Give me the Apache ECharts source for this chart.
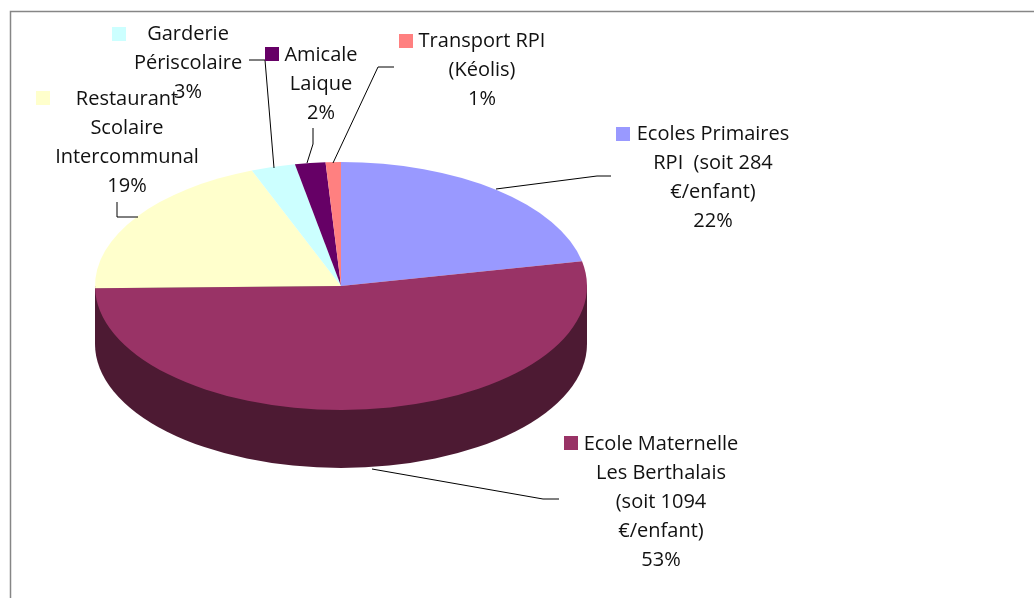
<!DOCTYPE html>
<html>
<head>
<meta charset="utf-8">
<style>
  html, body { margin: 0; padding: 0; background: #fff; }
  #chart { width: 1034px; height: 598px; }
</style>
<script src="https://cdn.jsdelivr.net/npm/echarts@6/dist/echarts.min.js"></script>
</head>
<body>
<div id="chart"></div>
<script>
// données
const categories = [
  'Ecoles Primaires\nRPI  (soit 284\n€/enfant)',
  'Ecole Maternelle\nLes Berthalais\n(soit 1094\n€/enfant)',
  'Restaurant\nScolaire\nIntercommunal',
  'Garderie\nPériscolaire',
  'Amicale\nLaique',
  'Transport RPI\n(Kéolis)',
]
const values = [21.8, 52.9, 19.4, 2.9, 2.0, 1.0]

const colors = ['#9999FF', '#993366', '#FFFFCC', '#CCFFFF', '#660066', '#FF8080']
const wallColor = '#4D1A33'

// géométrie du camembert "3D"
const cx = 341
const cy = 286
const rx = 246
const ry = 124
const depth = 58

// centre de la première ligne du texte, puis carré de légende
const labelAnchors = [[713, 134], [661, 444], [127, 99], [188, 34], [321, 55], [482, 41]]
const keyBoxes = [[616, 127], [564, 436], [36, 91], [112, 27], [265, 47], [399, 34]]
const leaders = [
  [[496, 189], [597, 176], [611, 176]],
  [[372, 469], [543, 499], [559, 499]],
  [[117, 202], [117, 217], [138, 217]],
  [[274, 168], [265, 60], [249, 60]],
  [[307, 163], [313, 144], [313, 128]],
  [[333, 163], [378, 67], [394, 67]],
]

const total = values.reduce((a, b) => a + b, 0)
const labelFont = '20px "Open Sans", sans-serif'

function renderSlice(params, api) {
  const i = params.dataIndex
  const before = values.slice(0, i).reduce((a, b) => a + b, 0)
  const start = -Math.PI / 2 + (before / total) * Math.PI * 2
  const end = start + (api.value(0) / total) * Math.PI * 2
  return {
    type: 'sector',
    x: cx,
    y: cy,
    scaleY: ry / rx,
    shape: { cx: 0, cy: 0, r: rx, r0: 0, startAngle: start, endAngle: end, clockwise: true },
    style: { fill: colors[i] },
  }
}

function renderWall() {
  // seule la moitié avant du bord est visible
  return {
    type: 'group',
    children: [
      {
        type: 'sector',
        x: cx,
        y: cy + depth,
        scaleY: ry / rx,
        shape: { cx: 0, cy: 0, r: rx, r0: 0, startAngle: 0, endAngle: Math.PI, clockwise: true },
        style: { fill: wallColor },
      },
      {
        type: 'rect',
        shape: { x: cx - rx, y: cy, width: rx * 2, height: depth },
        style: { fill: wallColor },
      },
    ],
  }
}

function renderLabel(params, api) {
  const i = params.dataIndex
  const pct = Math.round((api.value(0) / total) * 100) + '%'
  return {
    type: 'group',
    children: [
      {
        type: 'polyline',
        shape: { points: leaders[i] },
        style: { stroke: '#000', lineWidth: 1, fill: null },
      },
      {
        type: 'rect',
        shape: { x: keyBoxes[i][0], y: keyBoxes[i][1], width: 14, height: 14 },
        style: { fill: colors[i] },
      },
      {
        type: 'text',
        style: {
          text: categories[i] + '\n' + pct,
          x: labelAnchors[i][0],
          y: labelAnchors[i][1] - 14.5,
          align: 'center',
          verticalAlign: 'top',
          font: labelFont,
          lineHeight: 29,
          fill: '#111',
        },
      },
    ],
  }
}

const chart = echarts.init(document.getElementById('chart'))

chart.setOption({
  animation: false,
  backgroundColor: '#fff',
  graphic: [
    {
      type: 'rect',
      silent: true,
      shape: { x: 10.5, y: 11.5, width: 1100, height: 700 },
      style: { fill: 'transparent', stroke: '#868686', lineWidth: 1.5 },
    },
  ],
  series: [
    { type: 'custom', coordinateSystem: 'none', data: [total], renderItem: renderWall, z: 1 },
    { type: 'custom', coordinateSystem: 'none', data: values, renderItem: renderSlice, z: 2 },
    { type: 'custom', coordinateSystem: 'none', data: values, renderItem: renderLabel, z: 3 },
  ],
})
</script>
</body>
</html>
